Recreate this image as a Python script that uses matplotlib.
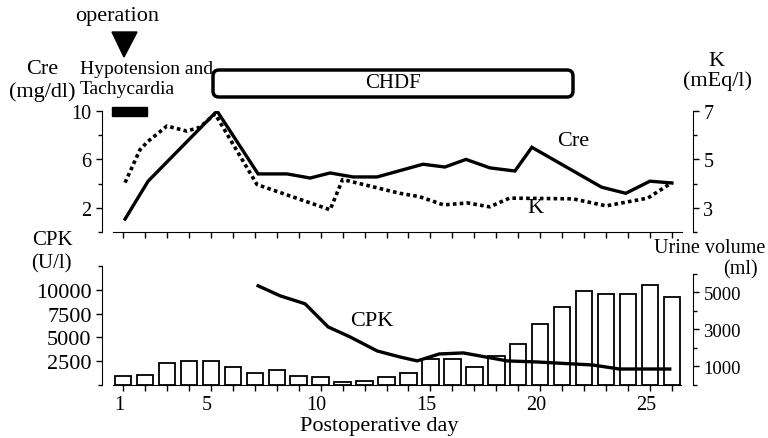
import matplotlib
matplotlib.use('Agg')
import matplotlib.pyplot as plt
import matplotlib.transforms as mtransforms
from matplotlib.patches import FancyBboxPatch, Polygon, Rectangle
from matplotlib.ticker import FixedLocator, NullFormatter

plt.rcParams['font.family'] = ['Liberation Serif', 'DejaVu Serif']

# ---------------- data ----------------
days = list(range(1, 27))
urine_ml = [475, 567, 1162, 1288, 1288, 964, 658, 802, 477, 441, 171, 243, 441,
            658, 1378, 1378, 982, 1558, 2189, 3306, 4225, 5072, 4928, 4928, 5378, 4748]

cre_day = [1.09, 2.14, 5.28, 7.15, 8.47, 9.52, 10.43, 11.47, 12.57, 14.66, 15.66,
           16.62, 17.71, 18.85, 19.62, 22.8, 23.9, 25.0, 26.0]
cre_mg_dl = [1.07, 4.2, 10.0, 4.8, 4.8, 4.46, 4.88, 4.55, 4.55, 5.6, 5.37,
             6.0, 5.3, 5.04, 7.0, 3.7, 3.2, 4.2, 4.05]

k_day = [1.09, 1.77, 2.14, 3.0, 3.9, 4.5, 5.19, 7.1, 10.43, 11.0, 13.6, 14.5,
         15.6, 16.7, 17.7, 18.6, 21.5, 23.0, 24.9, 26.0]
k_meq_l = [4.04, 5.4, 5.75, 6.38, 6.17, 6.33, 6.88, 3.96, 2.92, 4.17, 3.6, 3.46,
           3.12, 3.2, 3.04, 3.4, 3.37, 3.08, 3.4, 4.04]

cpk_day = [7.15, 8.15, 9.29, 10.34, 11.34, 12.57, 13.6, 14.4, 15.4, 16.5, 18.5,
           19.85, 22.4, 23.6, 25.9]
cpk_u_l = [10420, 9370, 8530, 6100, 5050, 3580, 2950, 2530, 3260, 3370, 2530,
           2420, 2100, 1680, 1680]

x_ticklabels = [1, 5, 10, 15, 20, 25]
cre_ticks = [2, 6, 10]
k_ticks = [3, 5, 7]
cpk_ticks = [2500, 5000, 7500, 10000]
urine_ticks = [1000, 3000, 5000]

# ---------------- figure ----------------
W, H = 768, 439
fig = plt.figure(figsize=(W / 100, H / 100), dpi=100)


def rect(x0, y0, x1, y1):
    return [x0 / W, 1 - y1 / H, (x1 - x0) / W, (y1 - y0) / H]


XLIM = (0.04, 26.96)

def style_axis(ax):
    for s in ['top', 'right']:
        ax.spines[s].set_visible(False)
    ax.tick_params(which='major', direction='out', length=4, width=1)
    ax.tick_params(which='minor', direction='out', length=3, width=1)
    ax.set_xlim(*XLIM)
    ax.xaxis.set_major_locator(FixedLocator(days))


# top panel
ax1 = fig.add_axes(rect(102, 112, 693, 233))
ax1.patch.set_alpha(0)
style_axis(ax1)
ax1.spines['bottom'].set_bounds(0.55, 26.45)
ax1.set_ylim(0, 10)
ax1.set_yticks(cre_ticks)
ax1.set_yticklabels([str(t) for t in cre_ticks], fontsize=14.5)
ax1.yaxis.set_minor_locator(FixedLocator([0, 4, 8]))
ax1.xaxis.set_major_formatter(NullFormatter())
ax1.plot(cre_day, cre_mg_dl, color='black', lw=2.4, solid_joinstyle='miter')

ax1r = ax1.twinx()
for s in ['top', 'left', 'bottom']:
    ax1r.spines[s].set_visible(False)
ax1r.set_ylim(2, 7)
ax1r.set_yticks(k_ticks)
ax1r.set_yticklabels([str(t) for t in k_ticks], fontsize=14.5)
ax1r.yaxis.set_minor_locator(FixedLocator([2, 4, 6]))
ax1r.tick_params(which='major', direction='out', length=4, width=1)
ax1r.tick_params(which='minor', direction='out', length=3, width=1)
ax1r.plot(k_day, k_meq_l, color='black', lw=2.6, linestyle=(0, (1, 0.9)))

# bottom panel
ax2 = fig.add_axes(rect(102, 267, 693, 386))
ax2.patch.set_alpha(0)
style_axis(ax2)
ax2.spines['bottom'].set_bounds(0.55, 26.4)
ax2.set_ylim(0, 12500)
ax2.set_yticks(cpk_ticks)
ax2.set_yticklabels([str(t) for t in cpk_ticks], fontsize=16)
ax2.yaxis.set_minor_locator(FixedLocator([0, 12500]))
ax2.xaxis.set_major_formatter(plt.FuncFormatter(
    lambda v, p: str(int(v)) if int(v) in x_ticklabels else ''))
ax2.tick_params(axis='x', labelsize=14.5, pad=3)
shift = mtransforms.ScaledTranslation(-4 / 100, 0, fig.dpi_scale_trans)
for lbl in ax2.get_xticklabels():
    lbl.set_transform(lbl.get_transform() + shift)

ax2r = ax2.twinx()
for s in ['top', 'left', 'bottom']:
    ax2r.spines[s].set_visible(False)
ax2r.set_ylim(0, 6430)
ax2r.spines['right'].set_bounds(0, 6000)
ax2r.set_yticks(urine_ticks)
ax2r.set_yticklabels([str(t) for t in urine_ticks], fontsize=13.5)
ax2r.yaxis.set_minor_locator(FixedLocator([0, 2000, 4000, 6000]))
ax2r.tick_params(which='major', direction='out', length=4, width=1)
ax2r.tick_params(which='minor', direction='out', length=3, width=1)
ax2r.bar(days, urine_ml, width=0.75, facecolor='white', edgecolor='black', lw=1.3, zorder=1)
ax2r.set_zorder(ax2.get_zorder() - 1)
ax2.plot(cpk_day, cpk_u_l, color='black', lw=2.4, zorder=3)

# overlay for annotations (pixel coordinates)
ov = fig.add_axes([0, 0, 1, 1])
ov.set_xlim(0, W)
ov.set_ylim(H, 0)
ov.axis('off')
ov.patch.set_alpha(0)

ov.text(117, 16, 'operation', fontsize=16, ha='center', va='center')
ov.add_patch(Polygon([(112, 33), (137, 33), (124, 58)], closed=True, color='black'))
ov.text(80, 69, 'Hypotension and', fontsize=14, ha='left', va='center')
ov.text(80, 90, 'Tachycardia', fontsize=14, ha='left', va='center')
ov.add_patch(Rectangle((112, 108), 35, 9, color='black'))
ov.add_patch(FancyBboxPatch((213, 71), 360, 27, boxstyle='round,pad=0,rounding_size=6',
                            fill=False, lw=2.5, edgecolor='black'))
ov.text(393, 84, 'CHDF', fontsize=15, ha='center', va='center')
ov.text(42, 69, 'Cre', fontsize=16, ha='center', va='center')
ov.text(42, 92, '(mg/dl)', fontsize=16, ha='center', va='center')
ov.text(716, 61, 'K', fontsize=16, ha='center', va='center')
ov.text(717, 81, '(mEq/l)', fontsize=16, ha='center', va='center')
ov.text(573, 142, 'Cre', fontsize=16, ha='center', va='center')
ov.text(535, 209, 'K', fontsize=16, ha='center', va='center')
ov.text(52, 241, 'CPK', fontsize=15, ha='center', va='center')
ov.text(51, 264, '(U/l)', fontsize=15, ha='center', va='center')
ov.text(710, 249, 'Urine volume', fontsize=14.5, ha='center', va='center')
ov.text(740, 270, '(ml)', fontsize=14.5, ha='center', va='center')
ov.text(372, 322, 'CPK', fontsize=16, ha='center', va='center')
ov.text(379, 427, 'Postoperative day', fontsize=16, ha='center', va='center')

fig.savefig('out.png', dpi=100)
